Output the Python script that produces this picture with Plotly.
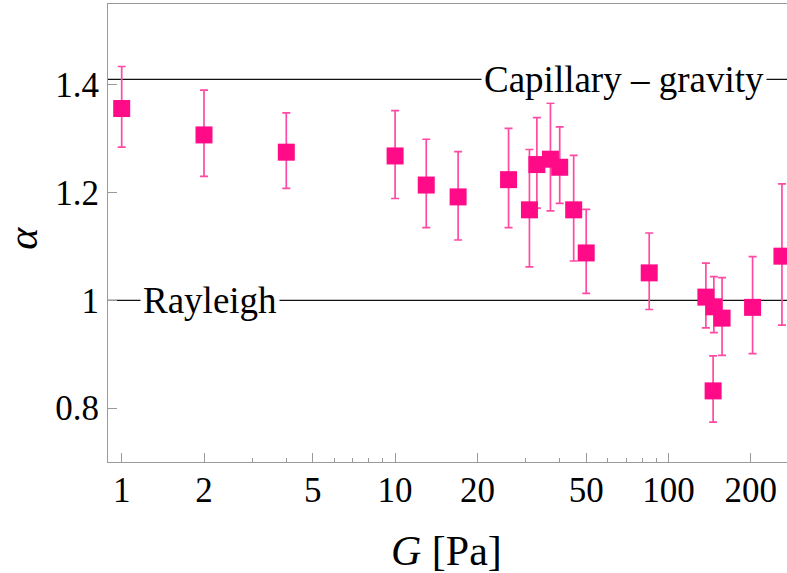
import math
import plotly.graph_objects as go

# Data
G = [1, 2, 4, 10, 13, 17, 26, 31, 33, 37, 40, 45, 50, 85, 137, 146.5, 157, 145.6, 203, 260]
alpha = [1.356, 1.307, 1.275, 1.268, 1.214, 1.192, 1.224, 1.168, 1.252, 1.262,
         1.247, 1.168, 1.088, 1.051, 1.006, 0.988, 0.967, 0.832, 0.987, 1.082]
alpha_hi = [1.434, 1.390, 1.348, 1.352, 1.299, 1.276, 1.319, 1.280, 1.339, 1.366,
            1.322, 1.269, 1.169, 1.125, 1.069, 1.044, 1.042, 0.897, 1.081, 1.216]
alpha_lo = [1.2845, 1.230, 1.208, 1.189, 1.135, 1.112, 1.135, 1.062, 1.171, 1.166,
            1.180, 1.073, 1.013, 0.983, 0.949, 0.940, 0.898, 0.774, 0.901, 0.954]

ref_levels = [1.41, 1.0]
ref_labels = ["Capillary \u2013 gravity", "Rayleigh"]
ref_label_x = [68.8, 2.11]

x_major = [1, 2, 5, 10, 20, 50, 100, 200]
x_minor = [3, 4, 6, 7, 8, 9, 30, 40, 60, 70, 80, 90, 300]
y_ticks = [0.8, 1.0, 1.2, 1.4]
y_ticktext = ["0.8", "1", "1.2", "1.4"]

err_plus = [h - a for h, a in zip(alpha_hi, alpha)]
err_minus = [a - l for a, l in zip(alpha, alpha_lo)]

SERIF = "Liberation Serif"
PINK = "#ff0a87"
PINK_BAR = "#ff4aa3"
AX = "#9a9a9a"

fig = go.Figure()

for lvl in ref_levels:
    fig.add_shape(type="line", xref="paper", yref="y", x0=0, x1=1, y0=lvl, y1=lvl,
                  line=dict(color="#111111", width=1.3), layer="below")

for lbl, lx, lvl in zip(ref_labels, ref_label_x, ref_levels):
    fig.add_annotation(x=math.log10(lx), y=lvl, xref="x", yref="y", text=lbl, showarrow=False,
                       font=dict(family=SERIF, size=37, color="black"),
                       bgcolor="white", borderpad=2, xanchor="center", yanchor="middle")

fig.add_trace(go.Scatter(
    x=G, y=alpha, mode="markers",
    marker=dict(symbol="square", size=17, color=PINK, line=dict(width=0)),
    error_y=dict(type="data", symmetric=False, array=err_plus, arrayminus=err_minus,
                 color=PINK_BAR, thickness=1.7, width=4),
    cliponaxis=False, showlegend=False,
))

fig.add_annotation(x=0.499, y=-0.1935, xref="paper", yref="paper",
                   text="<i>G</i> [Pa]", showarrow=False,
                   font=dict(family=SERIF, size=42, color="black"),
                   xanchor="center", yanchor="middle")
fig.add_annotation(x=-0.1255, y=0.4894, xref="paper", yref="paper",
                   text="<i>\u03b1</i>", showarrow=False, textangle=-90,
                   font=dict(family=SERIF, size=42, color="black"),
                   xanchor="center", yanchor="middle")

fig.update_xaxes(
    type="log", range=[-0.0501, 2.4334],
    tickmode="array", tickvals=x_major, ticktext=[str(v) for v in x_major],
    ticks="inside", ticklen=9, tickwidth=1, tickcolor=AX,
    minor=dict(tickmode="array", tickvals=x_minor, ticks="inside", ticklen=4,
               tickwidth=1, tickcolor=AX, showgrid=False),
    showline=True, linecolor=AX, linewidth=1, mirror=True,
    showgrid=False, zeroline=False,
    tickfont=dict(family=SERIF, size=35, color="black"),
    ticklabelstandoff=-3,
)
fig.update_yaxes(
    range=[0.7, 1.55],
    tickmode="array", tickvals=y_ticks, ticktext=y_ticktext,
    ticks="inside", ticklen=9, tickwidth=1, tickcolor=AX,
    showline=True, linecolor=AX, linewidth=1, mirror=False,
    showgrid=False, zeroline=False,
    tickfont=dict(family=SERIF, size=35, color="black"),
    ticklabelstandoff=1,
)

fig.update_layout(
    width=787, height=573,
    margin=dict(l=108, r=0, t=4, b=111, autoexpand=False),
    paper_bgcolor="white", plot_bgcolor="white",
)

fig.write_html("out.html")
